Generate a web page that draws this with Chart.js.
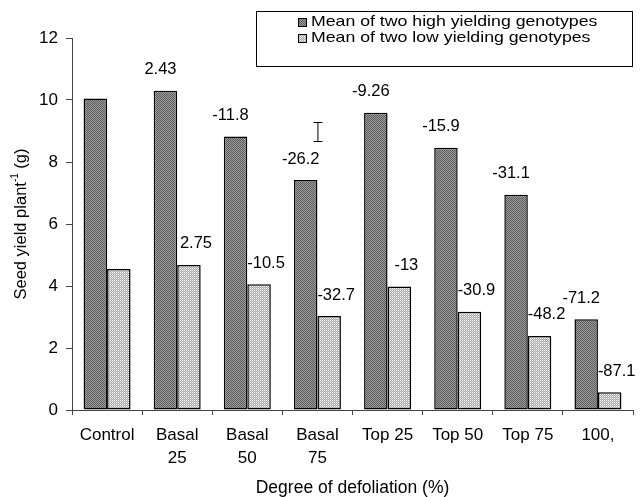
<!DOCTYPE html>
<html>
<head>
<meta charset="utf-8">
<script src="https://cdn.jsdelivr.net/npm/chart.js@4.4.0/dist/chart.umd.min.js"></script>
<style>
    html, body { margin: 0; padding: 0; background: #fff; }
    #wrap { width: 640px; height: 497px; }
</style>
</head>
<body>
<div id="wrap"><canvas id="yieldChart"></canvas></div>
<script>
// --- data ---
const categories = ['Control', ['Basal', '25'], ['Basal', '50'], ['Basal', '75'], 'Top 25', 'Top 50', 'Top 75', '100,'];
const seriesNames = ['Mean of two high yielding genotypes', 'Mean of two low yielding genotypes'];
const highYield = [10.05, 10.3, 8.82, 7.42, 9.59, 8.46, 6.94, 2.93];
const lowYield = [4.55, 4.68, 4.06, 3.03, 3.98, 3.17, 2.39, 0.57];
// % change from control printed above the bars
const highChange = ['', '2.43', '-11.8', '-26.2', '-9.26', '-15.9', '-31.1', '-71.2'];
const lowChange = ['', '2.75', '-10.5', '-32.7', '-13', '-30.9', '-48.2', '-87.1'];
// LSD bar drawn over the Basal 75 group
const lsdIndex = 3;
const lsdRange = [8.68, 9.29];
const yMin = 0, yMax = 12, yStep = 2;

const FONT = '"Liberation Sans", Arial, sans-serif';

function makePattern(kind) {
    const c = document.createElement('canvas');
    c.width = 2; c.height = 2;
    const g = c.getContext('2d');
    if (kind === 'high') {
        g.fillStyle = '#9c9c9c'; g.fillRect(0, 0, 2, 2);
        g.fillStyle = '#5c5c5c'; g.fillRect(0, 0, 1, 1); g.fillRect(1, 1, 1, 1);
    } else {
        g.fillStyle = '#a8a8a8'; g.fillRect(0, 0, 2, 2);
        g.fillStyle = '#ffffff'; g.fillRect(0, 0, 1, 1);
        g.fillStyle = '#d0d0d0'; g.fillRect(1, 1, 1, 1);
    }
    return c.getContext('2d').createPattern(c, 'repeat');
}
const highFill = makePattern('high');
const lowFill = makePattern('low');

// value labels above each bar
const changeLabels = {
    id: 'changeLabels',
    afterDatasetsDraw(chart) {
        const ctx = chart.ctx;
        ctx.save();
        ctx.font = '16.5px ' + FONT;
        ctx.fillStyle = '#000';
        ctx.textAlign = 'center';
        ctx.textBaseline = 'middle';
        [highChange, lowChange].forEach((labels, di) => {
            const meta = chart.getDatasetMeta(di);
            meta.data.forEach((bar, i) => {
                if (!labels[i]) return;
                const dx = di === 0 ? -5 : 7;
                ctx.fillText(labels[i], bar.x + dx, bar.y - 21);
            });
        });
        ctx.restore();
    }
};

// LSD bar
const lsdBar = {
    id: 'lsdBar',
    afterDatasetsDraw(chart) {
        const ctx = chart.ctx;
        const x = chart.scales.x.getPixelForValue(lsdIndex);
        const y1 = chart.scales.y.getPixelForValue(lsdRange[0]);
        const y2 = chart.scales.y.getPixelForValue(lsdRange[1]);
        ctx.save();
        ctx.strokeStyle = '#000';
        ctx.lineWidth = 1;
        ctx.beginPath();
        ctx.moveTo(x + 0.5, y1); ctx.lineTo(x + 0.5, y2);
        ctx.moveTo(x - 4, Math.round(y1) + 0.5); ctx.lineTo(x + 5, Math.round(y1) + 0.5);
        ctx.moveTo(x - 4, Math.round(y2) + 0.5); ctx.lineTo(x + 5, Math.round(y2) + 0.5);
        ctx.stroke();
        ctx.restore();
    }
};

// boxed legend inside the plot, top right (text is stretched wide in the original)
const boxLegend = {
    id: 'boxLegend',
    afterDraw(chart) {
        const ctx = chart.ctx;
        ctx.save();
        ctx.strokeStyle = '#000';
        ctx.lineWidth = 1;
        ctx.fillStyle = '#fff';
        ctx.fillRect(256.5, 11.5, 376, 55);
        ctx.strokeRect(256.5, 11.5, 376, 55);
        [highFill, lowFill].forEach((fill, i) => {
            const cy = 22 + i * 15.7;
            ctx.fillStyle = fill;
            ctx.fillRect(298.5, Math.round(cy - 4) + 0.5, 8, 8);
            ctx.strokeStyle = '#000';
            ctx.strokeRect(298.5, Math.round(cy - 4) + 0.5, 8, 8);
            ctx.save();
            ctx.translate(311, cy);
            ctx.scale(1.18, 1);
            ctx.font = '15px ' + FONT;
            ctx.textBaseline = 'middle';
            ctx.textAlign = 'left';
            ctx.fillStyle = '#000';
            ctx.fillText(seriesNames[i], 0, 0);
            ctx.restore();
        });
        ctx.restore();
    }
};

// rotated y title with superscript
const yTitle = {
    id: 'yTitle',
    afterDraw(chart) {
        const ctx = chart.ctx;
        const area = chart.chartArea;
        const parts = [['Seed yield plant', 16.5, 0], ['-1', 10, -6], [' (g)', 16.5, 0]];
        ctx.save();
        ctx.translate(21, (area.top + area.bottom) / 2);
        ctx.rotate(-Math.PI / 2);
        ctx.fillStyle = '#000';
        ctx.textBaseline = 'middle';
        ctx.textAlign = 'left';
        let total = 0;
        parts.forEach(p => { ctx.font = p[1] + 'px ' + FONT; total += ctx.measureText(p[0]).width; });
        let x = -total / 2;
        parts.forEach(p => {
            ctx.font = p[1] + 'px ' + FONT;
            ctx.fillText(p[0], x, p[2]);
            x += ctx.measureText(p[0]).width;
        });
        ctx.restore();
    }
};

new Chart(document.getElementById('yieldChart'), {
    type: 'bar',
    data: {
        labels: categories,
        datasets: [{
            label: seriesNames[0],
            data: highYield,
            backgroundColor: highFill,
            borderColor: '#000',
            borderWidth: 1.5,
            borderSkipped: false,
            barPercentage: 1,
            categoryPercentage: 0.67
        }, {
            label: seriesNames[1],
            data: lowYield,
            backgroundColor: lowFill,
            borderColor: '#000',
            borderWidth: 1.5,
            borderSkipped: false,
            barPercentage: 1,
            categoryPercentage: 0.67
        }]
    },
    options: {
        responsive: true,
        maintainAspectRatio: false,
        animation: false,
        devicePixelRatio: 1,
        layout: { padding: { left: 0, right: 7, top: 38, bottom: 0 } },
        plugins: {
            legend: { display: false },
            tooltip: { enabled: false }
        },
        scales: {
            y: {
                min: yMin,
                max: yMax,
                afterFit: scale => { scale.width = 72; },
                ticks: {
                    stepSize: yStep,
                    color: '#000',
                    padding: 8,
                    font: { family: FONT, size: 17 }
                },
                grid: { drawOnChartArea: false, tickLength: 6, color: '#444' },
                border: { color: '#444', width: 1 }
            },
            x: {
                afterFit: scale => { scale.height = 87; },
                ticks: {
                    color: '#000',
                    padding: 9,
                    maxRotation: 0,
                    autoSkip: false,
                    font: { family: FONT, size: 17, lineHeight: 1.36 }
                },
                grid: { drawOnChartArea: false, offset: true, tickLength: 5, color: '#444' },
                border: { color: '#444', width: 1 },
                title: {
                    display: true,
                    text: 'Degree of defoliation (%)',
                    color: '#000',
                    padding: { top: 0, bottom: 0 },
                    font: { family: FONT, size: 17.5, lineHeight: 1 }
                }
            }
        }
    },
    plugins: [changeLabels, lsdBar, boxLegend, yTitle]
});
</script>
</body>
</html>
